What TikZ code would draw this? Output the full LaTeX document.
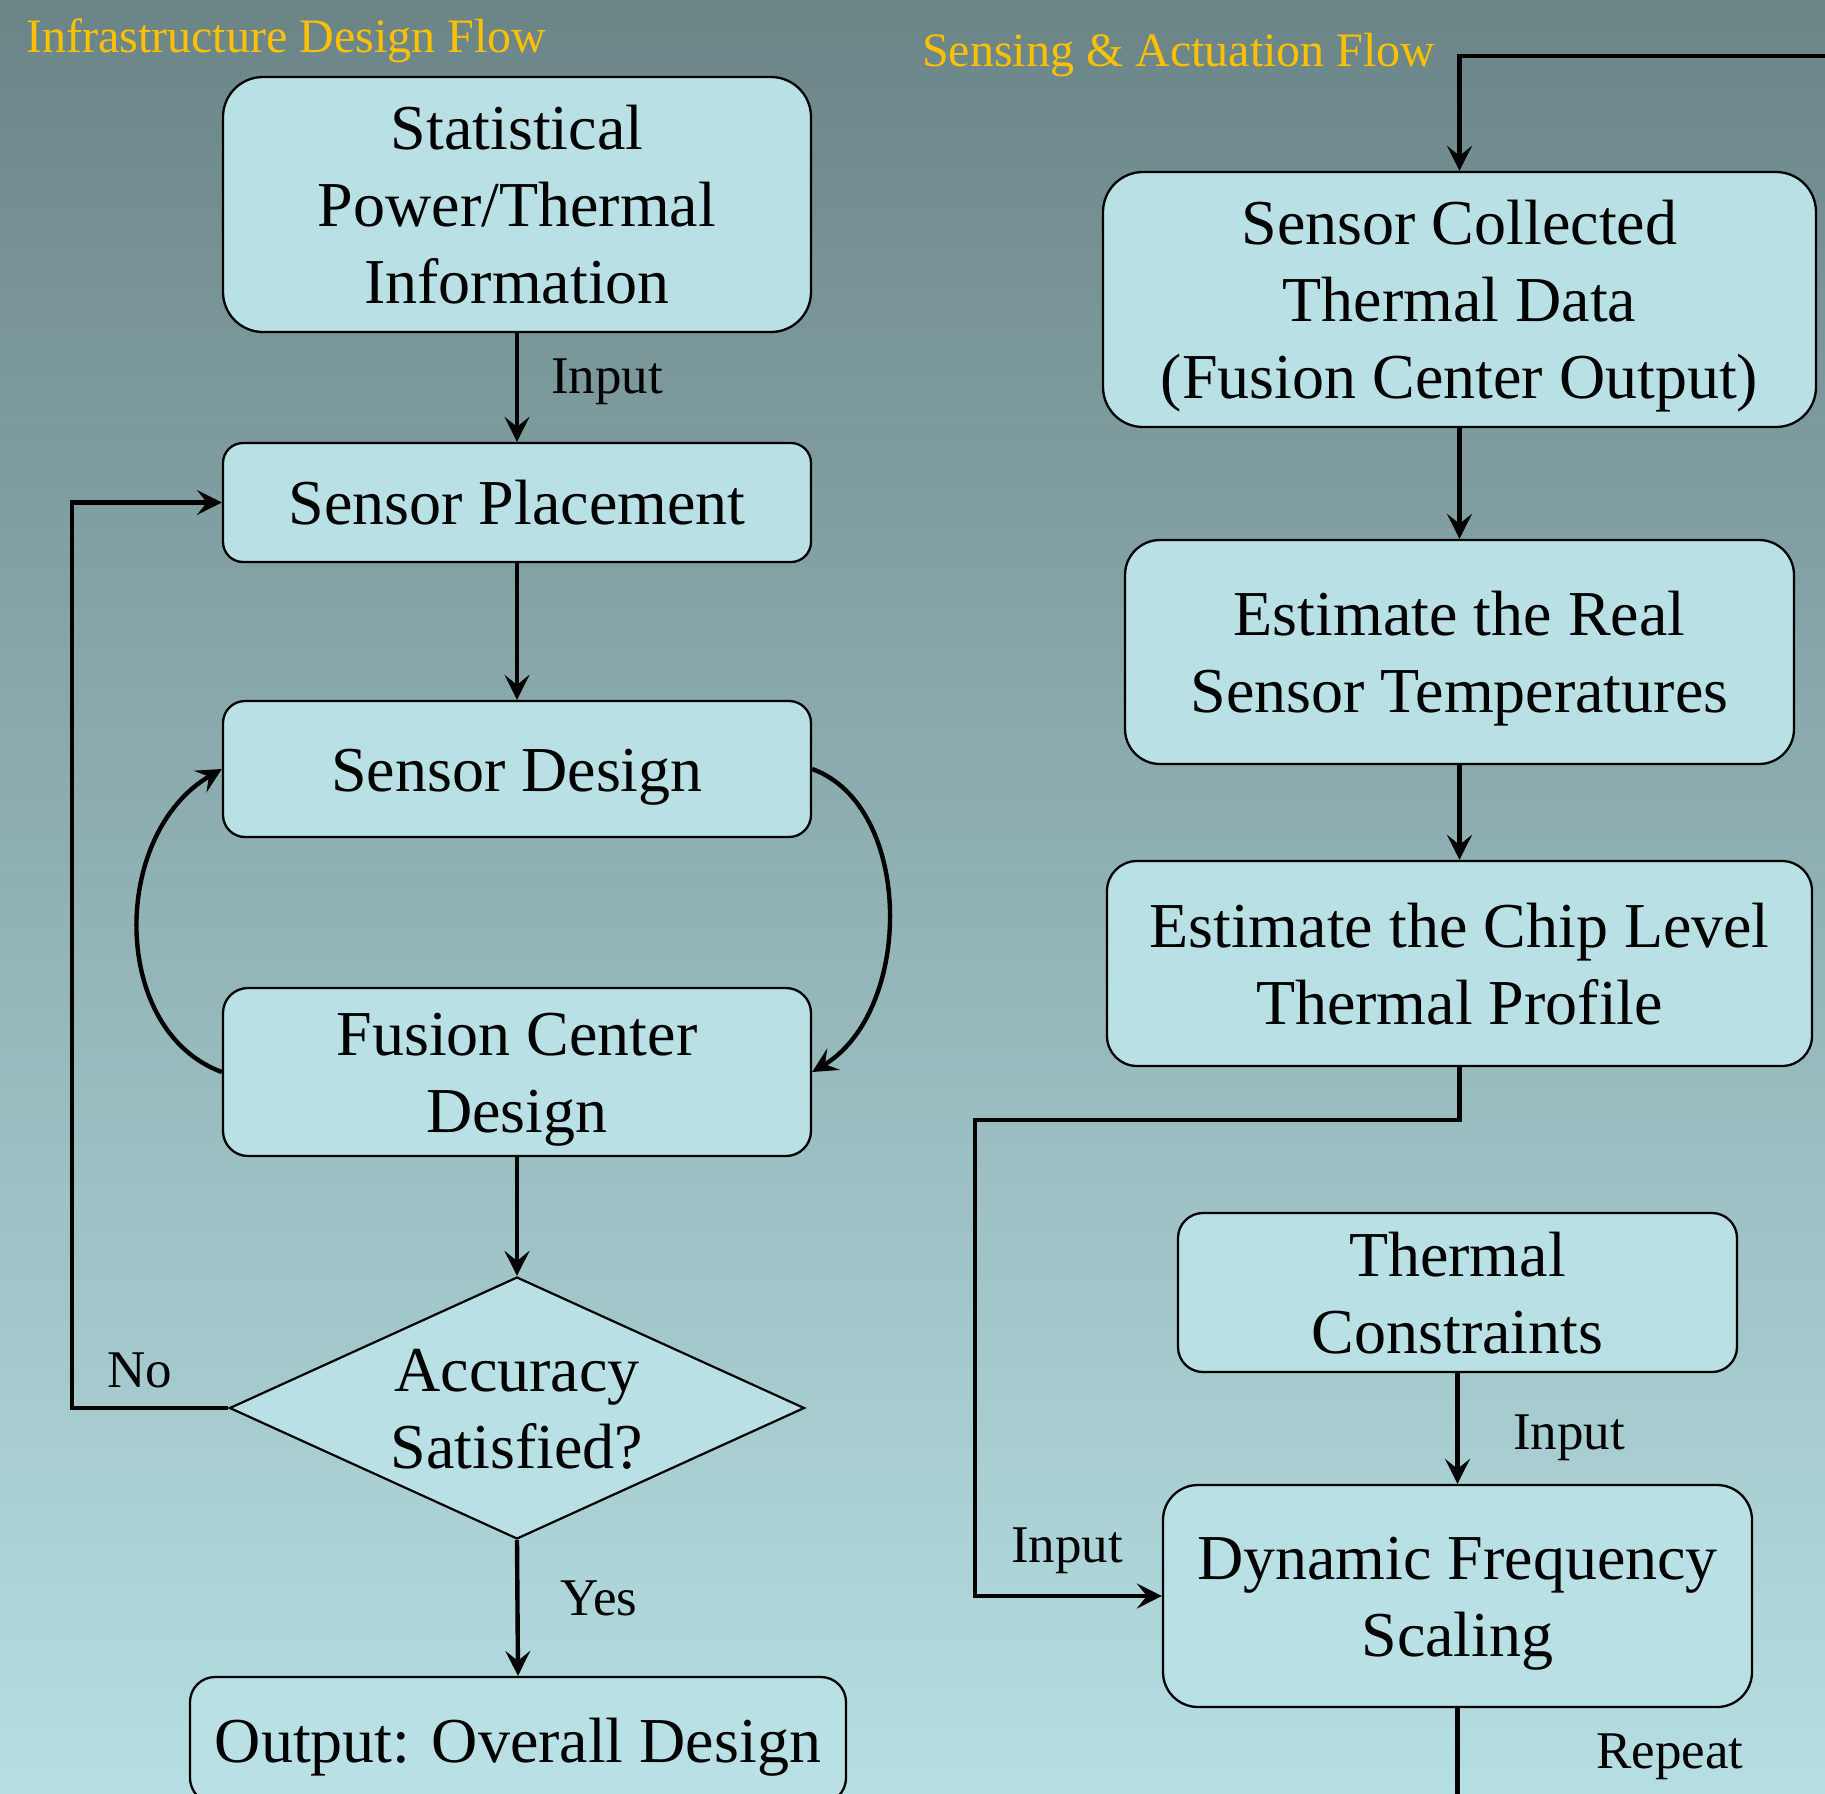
\documentclass[tikz,border=0pt]{standalone}
\usepackage{fontspec}
\setmainfont{Liberation Serif}
\usetikzlibrary{arrows.meta,shapes.geometric}

\definecolor{bgtop}{RGB}{107,133,135}
\definecolor{bgbot}{RGB}{182,223,227}
\definecolor{boxfill}{RGB}{185,224,228}
\definecolor{titlegold}{RGB}{255,192,0}

% struts giving every text block the same first-line height and last-line depth
\newcommand{\hiStrut}{\rule{0pt}{60pt}}
\newcommand{\loStrut}{\rule[-16pt]{0pt}{0pt}}
% slimmer pair for the decision diamond, same vertical balance
\newcommand{\hiStrutD}{\rule{0pt}{52pt}}
\newcommand{\loStrutD}{\rule[-8pt]{0pt}{0pt}}

\tikzset{
  boxtext/.style={align=center, inner sep=0pt, font=\fontsize{64}{77}\selectfont},
  box/.style={boxtext, draw=black, line width=2.3pt, fill=boxfill, rounded corners=#1},
  box/.default=30pt,
  decision/.style={boxtext, draw=black, line width=2.2pt, fill=boxfill, shape=diamond,
    shape aspect=2.3},
  flow/.style={line width=4.4pt, -{Stealth[length=25pt,width=25pt,inset=10pt]}},
  plain/.style={line width=4.4pt},
  lbl/.style={font=\fontsize{53}{60}\selectfont, inner sep=0pt},
  heading/.style={font=\fontsize{48}{55}\selectfont, text=titlegold,
    inner sep=0pt, anchor=west},
}

\begin{document}
\begin{tikzpicture}[x=1pt, y=-1pt]
  % canvas and background
  \useasboundingbox (0,0) rectangle (1825,1793);
  \shade[top color=bgtop, bottom color=bgbot] (0,0) rectangle (1825,1793);
  \clip (0,0) rectangle (1825,1793);

  % headings
  \node[heading] (h1) at (26,41) {Infrastructure Design Flow};
  \node[heading] (h2) at (922,55) {Sensing \& Actuation Flow};

  % infrastructure design flow
  \node[box=40pt, minimum width=588pt, minimum height=255pt] (stat) at (517,204.5)
    {\hiStrut Statistical\\Power/Thermal\\Information\loStrut};
  \node[box=20pt, minimum width=588pt, minimum height=119pt] (place) at (517,502.5)
    {\hiStrut Sensor Placement\loStrut};
  \node[box=22pt, minimum width=588pt, minimum height=136pt] (sdes) at (517,769)
    {\hiStrut Sensor Design\loStrut};
  \node[box=25pt, minimum width=588pt, minimum height=168pt] (fus) at (517,1072)
    {\hiStrut Fusion Center\\Design\loStrut};
  \node[decision, minimum width=575pt, minimum height=262pt] (acc) at (517,1408)
    {\hiStrutD Accuracy\\Satisfied?\loStrutD};
  \node[box=25pt, minimum width=656pt, minimum height=126pt] (out) at (518,1740)
    {\hiStrut Output: Overall Design\loStrut};

  % sensing & actuation flow
  \node[box=40pt, minimum width=713pt, minimum height=255pt] (sc) at (1459.5,299.5)
    {\hiStrut Sensor Collected\\Thermal Data\\(Fusion Center Output)\loStrut};
  \node[box=35pt, minimum width=669pt, minimum height=224pt] (er) at (1459.5,652)
    {\hiStrut Estimate the Real\\Sensor Temperatures\loStrut};
  \node[box=30pt, minimum width=705pt, minimum height=205pt] (cp) at (1459.5,963.5)
    {\hiStrut Estimate the Chip Level\\Thermal Profile\loStrut};
  \node[box=25pt, minimum width=559pt, minimum height=159pt] (tc) at (1457.5,1292.5)
    {\hiStrut Thermal\\Constraints\loStrut};
  \node[box=35pt, minimum width=589pt, minimum height=222pt] (dfs) at (1457.5,1596)
    {\hiStrut Dynamic Frequency\\Scaling\loStrut};

  % free ends of the loop-back connector
  \coordinate (loopin) at (1840,56);
  \coordinate (loopout) at (1457.5,1810);

  % connectors, left flow
  \draw[flow] (stat) -- (place);
  \node[lbl] (inA) at (607,382) {Input};
  \draw[flow] (place) -- (sdes);
  \draw[flow] (sdes.east) .. controls (914,806) and (914,1011) .. (fus.east);
  \draw[flow] (fus.west) .. controls (110,1031) and (110,834) .. (sdes.west);
  \draw[flow] (fus) -- (acc);
  \draw[flow] (acc.west) -- (72,1408) -- (72,502.5) -- (place.west);
  \node[lbl] (no) at (140,1370) {No};
  \draw[flow] (acc.south) -- (out.north);
  \node[lbl] (yes) at (599,1598) {Yes};

  % connectors, right flow
  \draw[flow] (loopin) -- (1459.5,56) -- (sc.north);
  \draw[flow] (sc) -- (er);
  \draw[flow] (er) -- (cp);
  \draw[flow] (cp.south) -- (1459.5,1120) -- (975,1120) -- (975,1596) -- (dfs.west);
  \node[lbl] (inB) at (1067,1551) {Input};
  \draw[flow] (tc) -- (dfs);
  \node[lbl] (inC) at (1569,1438) {Input};
  \draw[plain] (dfs.south) -- (loopout);
  \node[lbl] (rep) at (1670,1757) {Repeat};
\end{tikzpicture}
\end{document}
